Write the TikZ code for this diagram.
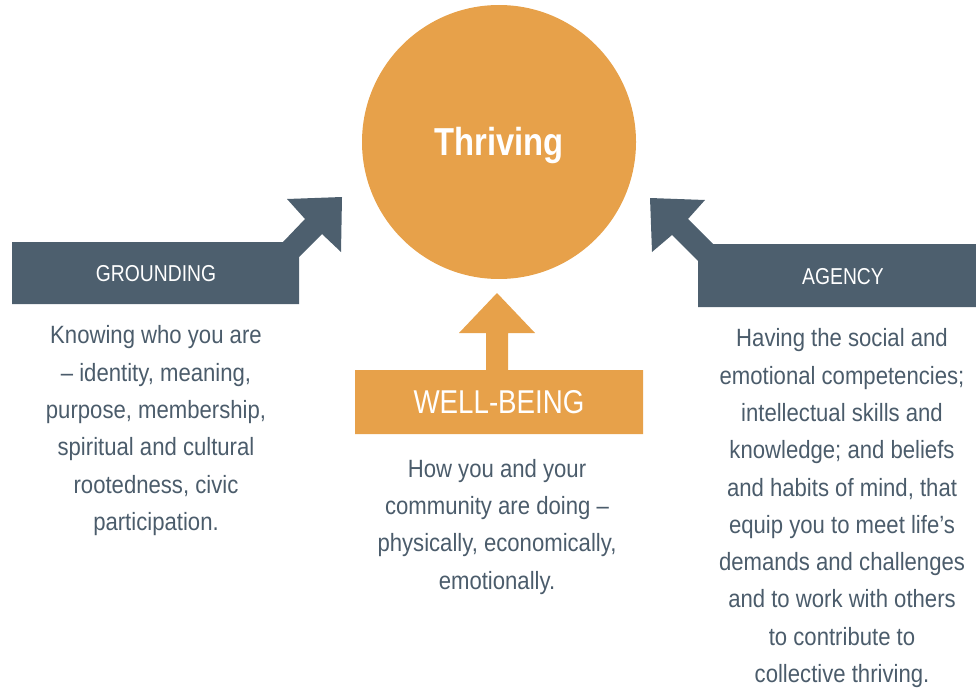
\documentclass[tikz,border=0pt]{standalone}
\usepackage{fontspec}
\setmainfont{Liberation Sans}[FakeStretch=0.84]
\newfontfamily\blurbfont{Liberation Sans}[FakeStretch=0.885, Ligatures=TeX]
\usepackage{xcolor}
\definecolor{thriveorange}{HTML}{E7A14A}
\definecolor{slate}{HTML}{4D5F6E}
\definecolor{bodygray}{HTML}{4B5C6B}

\tikzset{
  blurb/.style={anchor=north, inner sep=0pt, align=center, text=bodygray,
    font=\blurbfont\fontsize{25}{37.3}\selectfont},
  label/.style={text=white, inner sep=0pt, font=\fontsize{23}{27}\selectfont}
}

\begin{document}
\begin{tikzpicture}[x=1pt,y=-1pt]

  \useasboundingbox (0,0) rectangle (976,690);

  \fill[thriveorange] (499,142) circle (137);
  \node[text=white, font=\fontsize{39}{44}\selectfont\bfseries] (thriving) at (499,146) {Thriving};

  \fill[slate] (12,242) -- (283,242) -- (305,219) -- (287,199) -- (342,197)
    -- (341,252) -- (322,234) -- (299,257) -- (299,304) -- (12,304) -- cycle;
  \node[label] (grounding) at (156,274) {GROUNDING};

  \fill[slate] (976,244) -- (713,244) -- (688,219) -- (705,200) -- (650,198)
    -- (652,252) -- (672,235) -- (698,261) -- (698,307) -- (976,307) -- cycle;
  \node[label] (agency) at (843,277) {AGENCY};

  \fill[thriveorange] (355,370) -- (486,370) -- (486,333) -- (459,333) -- (497,293)
    -- (535,333) -- (508,333) -- (508,370) -- (643,370) -- (643,434) -- (355,434) -- cycle;
  \node[label, font=\fontsize{33}{38}\selectfont] (wellbeing) at (499,402) {WELL-BEING};

  \node[blurb] (groundtext) at (156,325.5) {Knowing who you are\\ – identity, meaning,\\ purpose, membership,\\ spiritual and cultural\\ rootedness, civic\\ participation.};
  \node[blurb] (welltext) at (497,459) {How you and your\\ community are doing –\\ physically, economically,\\ emotionally.};
  \node[blurb] (agencytext) at (842,328.5) {Having the social and\\ emotional competencies;\\ intellectual skills and\\ knowledge; and beliefs\\ and habits of mind, that\\ equip you to meet life’s\\ demands and challenges\\ and to work with others\\ to contribute to\\ collective thriving.};

\end{tikzpicture}
\end{document}
